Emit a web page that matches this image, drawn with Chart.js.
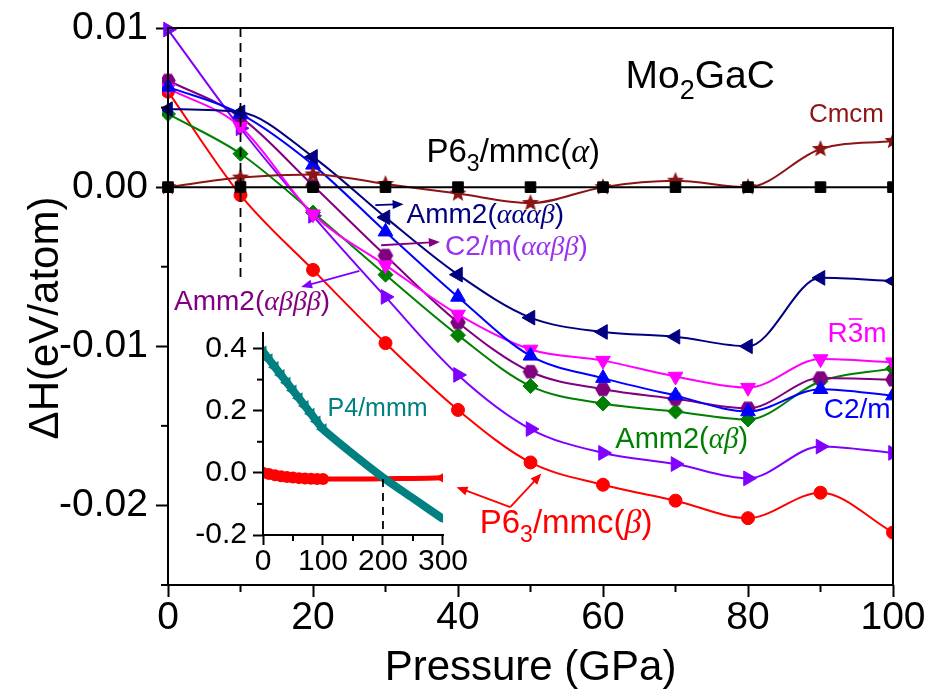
<!DOCTYPE html>
<html>
<head>
<meta charset="utf-8">
<script src="https://cdn.jsdelivr.net/npm/chart.js@4/dist/chart.umd.min.js"></script>
<style>
  html, body { margin: 0; padding: 0; background: #ffffff; }
  #wrap { position: relative; width: 933px; height: 700px; }
  #main { position: absolute; left: 0; top: 0; }
  #inset { position: absolute; left: 170px; top: 315px; }
  .box { position: absolute; box-sizing: border-box; pointer-events: none; border: 0 solid #000; }
</style>
</head>
<body>
<div id="wrap">
  <canvas id="main" width="933" height="700"></canvas>
  <canvas id="inset" width="300" height="290"></canvas>
  <div id="mainFrame" class="box"></div>
  <div id="insetFrame" class="box"></div>
</div>
<script>
// ---- main panel: enthalpy difference vs pressure (eV/atom) ----
const pressure      = [0, 10, 20, 30, 40, 50, 60, 70, 80, 90, 100];
const p63mmcAlpha   = [0, 0, 0, 0, 0, 0, 0, 0, 0, 0, 0];
const cmcm          = [0, 0.0006, 0.0008, 0.0002, -0.0004, -0.0010, 0.0000, 0.0004, 0.0000, 0.0024, 0.0029];
const amm2AAAB      = [0.0049, 0.0047, 0.0019, -0.0019, -0.0055, -0.0082, -0.0091, -0.0094, -0.0100, -0.0057, -0.0059];
const c2m           = [0.0063, 0.0046, 0.0014, -0.0028, -0.0069, -0.0106, -0.0120, -0.0131, -0.0141, -0.0127, -0.0131];
const r3m           = [0.0062, 0.0038, -0.0017, -0.0049, -0.0080, -0.0102, -0.0109, -0.0119, -0.0126, -0.0108, -0.0110];
const c2mAABB       = [0.0067, 0.0044, 0.0001, -0.0043, -0.0085, -0.0116, -0.0127, -0.0133, -0.0139, -0.0120, -0.0121];
const amm2AB        = [0.0046, 0.0021, -0.0016, -0.0055, -0.0093, -0.0125, -0.0136, -0.0141, -0.0146, -0.0122, -0.0114];
const amm2ABBB      = [0.0099, 0.0037, -0.0018, -0.0069, -0.0118, -0.0152, -0.0167, -0.0174, -0.0183, -0.0163, -0.0167];
const p63mmcBeta    = [0.0060, -0.0005, -0.0052, -0.0098, -0.0140, -0.0173, -0.0187, -0.0197, -0.0208, -0.0192, -0.0217];
const xTickValues   = [0, 20, 40, 60, 80, 100];
const xMinorTicks   = [10, 30, 50, 70, 90];
const yTickValues   = [-0.02, -0.01, 0.00, 0.01];
const yMinorTicks   = [-0.025, -0.015, -0.005, 0.005];

// ---- inset: wide pressure range ----
const insetPressure   = [0, 10, 20, 30, 40, 50, 60, 70, 80, 90, 100, 150, 200, 250, 300];
const p4mmm           = [0.39, 0.365, 0.34, 0.315, 0.29, 0.265, 0.24, 0.215, 0.19, 0.165, 0.14, 0.06, -0.015, -0.082, -0.148];
const p63mmcBetaWide  = [0.0, -0.004, -0.008, -0.011, -0.013, -0.015, -0.017, -0.018, -0.019, -0.02, -0.02, -0.02, -0.019, -0.018, -0.016];
const insetXTicks     = [0, 100, 200, 300];
const insetXMinor     = [50, 150, 250];
const insetYTicks     = [-0.2, 0.0, 0.2, 0.4];
const insetYMinor     = [-0.1, 0.1, 0.3];

const SANS  = '"Liberation Sans", Arial, Helvetica, sans-serif';
const SERIF = '"Liberation Serif", "Times New Roman", serif';

const C = {
  black: '#000000', cmcm: '#8C1414', navy: '#000080', blue: '#0000FF',
  magenta: '#FF00FF', purple: '#800080', green: '#008000', violet: '#8000FF',
  violetText: '#9933EE', red: '#FF0000', teal: '#008080'
};

function markerCanvas(size, draw) {
  const c = document.createElement('canvas');
  c.width = c.height = size;
  draw(c.getContext('2d'), size / 2);
  return c;
}
const starMarker = markerCanvas(20, (g, m) => {
  g.beginPath();
  for (let i = 0; i < 10; i++) {
    const r = i % 2 ? 3.9 : 9;
    const ang = -Math.PI / 2 + i * Math.PI / 5;
    g.lineTo(m + r * Math.cos(ang), m + r * Math.sin(ang));
  }
  g.closePath();
  g.fillStyle = C.cmcm;
  g.fill();
});
const hexMarker = markerCanvas(18, (g, m) => {
  g.beginPath();
  for (let i = 0; i < 6; i++) {
    const ang = i * Math.PI / 3;
    g.lineTo(m + 7.8 * Math.cos(ang), m + 7.8 * Math.sin(ang));
  }
  g.closePath();
  g.fillStyle = C.purple;
  g.fill();
});

function series(label, values, color, style, radius, rotation) {
  return {
    label,
    data: pressure.map((p, i) => ({ x: p, y: values[i] })),
    borderColor: color,
    backgroundColor: color,
    borderWidth: 2,
    pointStyle: style,
    pointRadius: radius,
    pointRotation: rotation || 0,
    pointBorderWidth: 1,
    cubicInterpolationMode: 'monotone',
    clip: { left: 6, top: 10, right: 0, bottom: 10 }
  };
}

function drawRich(ctx, x, y, parts, align) {
  let w = 0;
  parts.forEach(p => { ctx.font = p[1]; w += ctx.measureText(p[0]).width; });
  let cx = align === 'right' ? x - w : (align === 'center' ? x - w / 2 : x);
  const starts = [];
  parts.forEach(p => {
    ctx.font = p[1];
    ctx.fillStyle = p[2];
    starts.push(cx);
    ctx.fillText(p[0], cx, y + (p[3] || 0));
    cx += ctx.measureText(p[0]).width;
  });
  return starts;
}

function stroke(ctx, pts, color, width, dash) {
  ctx.save();
  ctx.strokeStyle = color;
  ctx.lineWidth = width;
  ctx.setLineDash(dash || []);
  ctx.beginPath();
  ctx.moveTo(pts[0], pts[1]);
  ctx.lineTo(pts[2], pts[3]);
  ctx.stroke();
  ctx.restore();
}

function arrow(ctx, x1, y1, x2, y2, color) {
  const ang = Math.atan2(y2 - y1, x2 - x1);
  const L = 11, H = 4.5;
  stroke(ctx, [x1, y1, x2 - L * 0.8 * Math.cos(ang), y2 - L * 0.8 * Math.sin(ang)], color, 1.8);
  ctx.save();
  ctx.fillStyle = color;
  ctx.beginPath();
  ctx.moveTo(x2, y2);
  ctx.lineTo(x2 - L * Math.cos(ang) + H * Math.sin(ang), y2 - L * Math.sin(ang) - H * Math.cos(ang));
  ctx.lineTo(x2 - L * Math.cos(ang) - H * Math.sin(ang), y2 - L * Math.sin(ang) + H * Math.cos(ang));
  ctx.closePath();
  ctx.fill();
  ctx.restore();
}

// short outward minor ticks on the bottom and left axes
function minorTicks(chart, xVals, yVals, len) {
  const ctx = chart.ctx, xs = chart.scales.x, ys = chart.scales.y;
  const a = chart.chartArea;
  xVals.forEach(v => { const px = xs.getPixelForValue(v); stroke(ctx, [px, a.bottom, px, a.bottom + len], '#000', 2); });
  yVals.forEach(v => { const py = ys.getPixelForValue(v); stroke(ctx, [a.left, py, a.left - len, py], '#000', 2); });
}

// place an outline element over a chart's plotting area
function outline(el, chart, offsetLeft, offsetTop, sides) {
  const a = chart.chartArea;
  el.style.left = (offsetLeft + a.left - 1) + 'px';
  el.style.top = (offsetTop + a.top - 1) + 'px';
  el.style.width = (a.right - a.left + 2) + 'px';
  el.style.height = (a.bottom - a.top + 2) + 'px';
  sides.forEach(s => { el.style['border' + s + 'Width'] = '2px'; });
}

// annotations of the main panel
const mainDecor = {
  id: 'mainDecor',
  afterDraw(chart) {
    const ctx = chart.ctx;
    const xs = chart.scales.x, ys = chart.scales.y;
    const X = v => xs.getPixelForValue(v), Y = v => ys.getPixelForValue(v);

    minorTicks(chart, xMinorTicks, yMinorTicks, 7);
    stroke(ctx, [X(10), Y(0.01), X(10), Y(-0.0058)], '#000', 1.8, [9, 6]);

    ctx.save();
    ctx.textBaseline = 'alphabetic';
    ctx.fillStyle = '#000';
    ctx.font = '42px ' + SANS;
    ctx.textAlign = 'center';
    ctx.fillText('Pressure (GPa)', (X(0) + X(100)) / 2, 680);
    ctx.save();
    ctx.translate(58, 318);
    ctx.rotate(-Math.PI / 2);
    ctx.fillText('\u0394H(eV/atom)', 0, 0);
    ctx.restore();
    ctx.textAlign = 'left';

    const f = (s) => s + 'px ' + SANS;
    const g = (s) => 'italic ' + s + 'px ' + SERIF;

    drawRich(ctx, X(63.1), Y(0.00623), [['Mo', f(39), C.black], ['2', f(27), C.black, 11], ['GaC', f(39), C.black]]);
    drawRich(ctx, X(88.4), Y(0.0041), [['Cmcm', f(26), C.cmcm]]);
    drawRich(ctx, X(59.6), Y(0.0016), [['P6', f(33), C.black], ['3', f(23), C.black, 9], ['/mmc(', f(33), C.black], ['\u03B1', g(34), C.black], [')', f(33), C.black]], 'right');
    drawRich(ctx, X(32.9), Y(-0.00226), [['Amm2(', f(28), C.navy], ['\u03B1\u03B1\u03B1\u03B2', g(28), C.navy], [')', f(28), C.navy]]);
    drawRich(ctx, X(38.2), Y(-0.00428), [['C2/m(', f(28), C.violetText], ['\u03B1\u03B1\u03B2\u03B2', g(28), C.violetText], [')', f(28), C.violetText]]);
    drawRich(ctx, X(0.83), Y(-0.00774), [['Amm2(', f(28), C.purple], ['\u03B1\u03B2\u03B2\u03B2', g(28), C.purple], [')', f(28), C.purple]]);
    const ry = Y(-0.00973);
    const rs = drawRich(ctx, X(90.97), ry, [['R', f(28), C.magenta], ['3', f(28), C.magenta], ['m', f(28), C.magenta]]);
    ctx.font = f(28);
    const w3 = ctx.measureText('3').width;
    stroke(ctx, [rs[1] + 1, ry - 23, rs[1] + w3 - 1, ry - 23], C.magenta, 1.6);
    drawRich(ctx, X(90.45), Y(-0.01453), [['C2/m', f(28), C.blue]]);
    drawRich(ctx, X(61.7), Y(-0.01642), [['Amm2(', f(29), C.green], ['\u03B1\u03B2', g(29), C.green], [')', f(29), C.green]]);
    drawRich(ctx, X(43.0), Y(-0.02176), [['P6', f(33), C.red], ['3', f(23), C.red, 9], ['/mmc(', f(33), C.red], ['\u03B2', g(34), C.red], [')', f(33), C.red]]);
    ctx.restore();

    arrow(ctx, X(28.6), Y(-0.00113), X(32.5), Y(-0.00107), C.navy);
    arrow(ctx, X(29.4), Y(-0.00365), X(37.5), Y(-0.00344), C.purple);
    arrow(ctx, X(26.4), Y(-0.00526), X(18.35), Y(-0.00627), C.violet);
    arrow(ctx, X(47.2), Y(-0.02011), X(51.5), Y(-0.0180), C.red);
    arrow(ctx, X(47.2), Y(-0.02011), X(39.8), Y(-0.01885), C.red);
  }
};

const fmtMain = v => (Math.abs(v) < 1e-9 ? '0.00' : v.toFixed(2));
const axisGrid = { display: true, drawOnChartArea: false, drawTicks: true, tickLength: 12, tickWidth: 2, color: '#000' };

const mainChart = new Chart(document.getElementById('main'), {
  type: 'line',
  data: {
    datasets: [
      series('P63/mmc(\u03B1)', p63mmcAlpha, C.black, 'rect', 7.5),
      series('Cmcm', cmcm, C.cmcm, starMarker, 8),
      series('Amm2(\u03B1\u03B1\u03B1\u03B2)', amm2AAAB, C.navy, 'triangle', 8.5, -90),
      series('C2/m', c2m, C.blue, 'triangle', 8.5, 0),
      series('R-3m', r3m, C.magenta, 'triangle', 8.5, 180),
      series('C2/m(\u03B1\u03B1\u03B2\u03B2)', c2mAABB, C.purple, hexMarker, 8),
      series('Amm2(\u03B1\u03B2)', amm2AB, C.green, 'rectRot', 7.5),
      series('Amm2(\u03B1\u03B2\u03B2\u03B2)', amm2ABBB, C.violet, 'triangle', 8.5, 90),
      series('P63/mmc(\u03B2)', p63mmcBeta, C.red, 'circle', 6.5)
    ]
  },
  options: {
    responsive: false,
    animation: false,
    devicePixelRatio: 1,
    layout: { padding: { top: 28, right: 40, left: 0, bottom: 0 } },
    plugins: { legend: { display: false }, tooltip: { enabled: false } },
    scales: {
      x: {
        type: 'linear', min: 0, max: 100, position: 'bottom',
        grid: axisGrid,
        border: { display: false },
        afterBuildTicks: s => { s.ticks = xTickValues.map(v => ({ value: v })); },
        ticks: { color: '#000', font: { family: SANS, size: 39, lineHeight: 1 }, padding: 2, maxRotation: 0, autoSkip: false },
        afterFit: s => { s.height = 115; }
      },
      y: {
        type: 'linear', min: -0.025, max: 0.01, position: 'left',
        grid: axisGrid,
        border: { display: false },
        afterBuildTicks: s => { s.ticks = yTickValues.map(v => ({ value: v })); },
        ticks: { color: '#000', font: { family: SANS, size: 39, lineHeight: 0.5 }, padding: 8, autoSkip: false, callback: fmtMain },
        afterFit: s => { s.width = 168; }
      }
    }
  },
  plugins: [mainDecor]
});
outline(document.getElementById('mainFrame'), mainChart, 0, 0, ['Left', 'Right', 'Top', 'Bottom']);

// ---- inset chart ----
const insetDecor = {
  id: 'insetDecor',
  afterDraw(chart) {
    const ctx = chart.ctx;
    const xs = chart.scales.x, ys = chart.scales.y;
    const X = v => xs.getPixelForValue(v), Y = v => ys.getPixelForValue(v);
    minorTicks(chart, insetXMinor, insetYMinor, 6);
    stroke(ctx, [X(200), Y(-0.02), X(200), Y(-0.2)], '#000', 1.8, [8, 6]);
    ctx.save();
    ctx.font = '25px ' + SANS;
    ctx.fillStyle = C.teal;
    ctx.textBaseline = 'alphabetic';
    ctx.fillText('P4/mmm', X(107.6), Y(0.1826));
    ctx.restore();
  }
};

const denseRadius = (limitR, endR) => c => {
  const p = insetPressure[c.dataIndex];
  return p <= 100 ? limitR : (p === 300 ? endR : 0);
};
const insetGrid = { display: true, drawOnChartArea: false, drawTicks: true, tickLength: 10, tickWidth: 2, color: '#000' };

const insetChart = new Chart(document.getElementById('inset'), {
  type: 'line',
  data: {
    datasets: [
      {
        label: 'P4/mmm',
        data: insetPressure.map((p, i) => ({ x: p, y: p4mmm[i] })),
        borderColor: C.teal, backgroundColor: C.teal,
        borderWidth: 8, pointStyle: 'triangle', pointRotation: -90,
        pointRadius: denseRadius(7, 7), pointBorderWidth: 0, tension: 0.3
      },
      {
        label: 'P63/mmc(\u03B2)',
        data: insetPressure.map((p, i) => ({ x: p, y: p63mmcBetaWide[i] })),
        borderColor: C.red, backgroundColor: C.red,
        borderWidth: 5,
        pointStyle: c => (insetPressure[c.dataIndex] === 300 ? 'triangle' : 'circle'),
        pointRotation: c => (insetPressure[c.dataIndex] === 300 ? -90 : 0),
        pointRadius: denseRadius(6, 8), pointBorderWidth: 0, tension: 0.3
      }
    ]
  },
  options: {
    responsive: false,
    animation: false,
    devicePixelRatio: 1,
    layout: { padding: { top: 18, right: 21, left: 0, bottom: 0 } },
    plugins: { legend: { display: false }, tooltip: { enabled: false } },
    scales: {
      x: {
        type: 'linear', min: 0, max: 300,
        grid: insetGrid,
        border: { display: false },
        afterBuildTicks: s => { s.ticks = insetXTicks.map(v => ({ value: v })); },
        ticks: { color: '#000', font: { family: SANS, size: 30, lineHeight: 1 }, padding: 2, maxRotation: 0, autoSkip: false },
        afterFit: s => { s.height = 70; }
      },
      y: {
        type: 'linear', min: -0.2, max: 0.45,
        grid: insetGrid,
        border: { display: false },
        afterBuildTicks: s => { s.ticks = insetYTicks.map(v => ({ value: v })); },
        ticks: { color: '#000', font: { family: SANS, size: 30, lineHeight: 0.5 }, padding: 6, autoSkip: false,
                 callback: v => v.toFixed(1) },
        afterFit: s => { s.width = 93; }
      }
    }
  },
  plugins: [insetDecor]
});
outline(document.getElementById('insetFrame'), insetChart, 170, 315, ['Left', 'Bottom']);
</script>
</body>
</html>
